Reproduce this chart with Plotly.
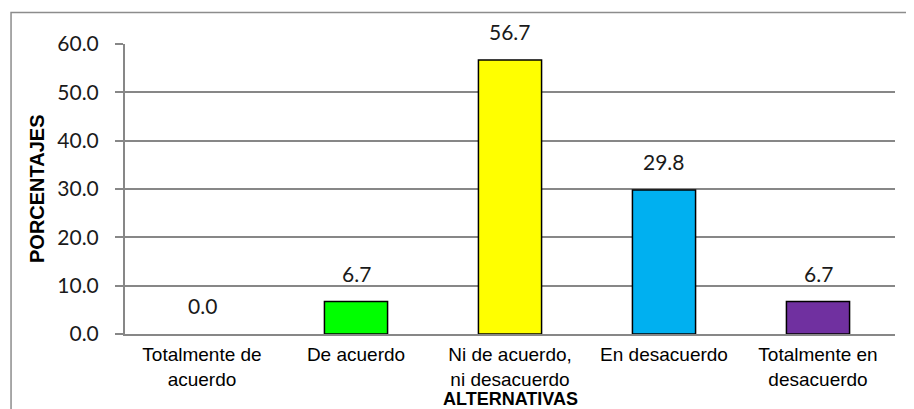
import plotly.graph_objects as go

categorias = ["Totalmente de<br>acuerdo", "De acuerdo", "Ni de acuerdo,<br>ni desacuerdo",
              "En desacuerdo", "Totalmente en<br>desacuerdo"]
porcentajes = [0.0, 6.7, 56.7, 29.8, 6.7]
colores = ["#00FF00", "#00FF00", "#FFFF00", "#00B0F0", "#7030A0"]
y_ticks = [0, 10, 20, 30, 40, 50, 60]

GRIS = "#878787"

# la pagina tiene un margen de 8px, por eso la figura es algo menor que la ventana
fig = go.Figure()
fig.add_trace(go.Bar(x=categorias, y=porcentajes,
                     marker=dict(color=colores, line=dict(color="black",
                                                          width=[0 if v == 0 else 1.5 for v in porcentajes])),
                     width=0.41, hoverinfo="skip"))

for cat, val in zip(categorias, porcentajes):
    fig.add_annotation(x=cat, y=val, text=f"{val:.1f}", showarrow=False, yanchor="bottom", yshift=14,
                       font=dict(family="Lato", size=21, color="#1a1a1a"))

# titulos de ejes
fig.add_annotation(text="<b>ALTERNATIVAS</b>", xref="paper", yref="paper", x=0.5, y=0, yshift=-65,
                   yanchor="middle", showarrow=False, font=dict(family="Liberation Sans", size=18, color="black"))
fig.add_annotation(text="<b>PORCENTAJES</b>", xref="paper", yref="paper", x=0, xshift=-88, y=0.5,
                   xanchor="center", yanchor="middle", textangle=-90, showarrow=False,
                   font=dict(family="Liberation Sans", size=20, color="black"))

# marco exterior
fig.add_shape(type="rect", xref="paper", yref="paper", x0=-0.148, x1=1.2, y0=-0.5, y1=1.1086,
              line=dict(color="#8c8c8c", width=1.5))

fig.update_layout(
    width=906, height=401, margin=dict(l=117, r=19, t=36, b=75),
    plot_bgcolor="white", paper_bgcolor="white", showlegend=False, bargap=0.59,
    xaxis=dict(showline=True, linecolor=GRIS, linewidth=2, ticks="", showgrid=False, ticklabelstandoff=2,
               tickfont=dict(family="Liberation Sans", size=19, color="black")),
    yaxis=dict(range=[0, 60], tickvals=y_ticks, tickformat=".1f", showgrid=True, gridcolor=GRIS, gridwidth=2,
               zeroline=False, showline=True, linecolor=GRIS, linewidth=2, ticks="outside", ticklen=8,
               tickcolor=GRIS, tickwidth=2, ticklabelstandoff=12,
               tickfont=dict(family="Lato", size=21, color="#1a1a1a")),
)

fig.write_html("out.html")
